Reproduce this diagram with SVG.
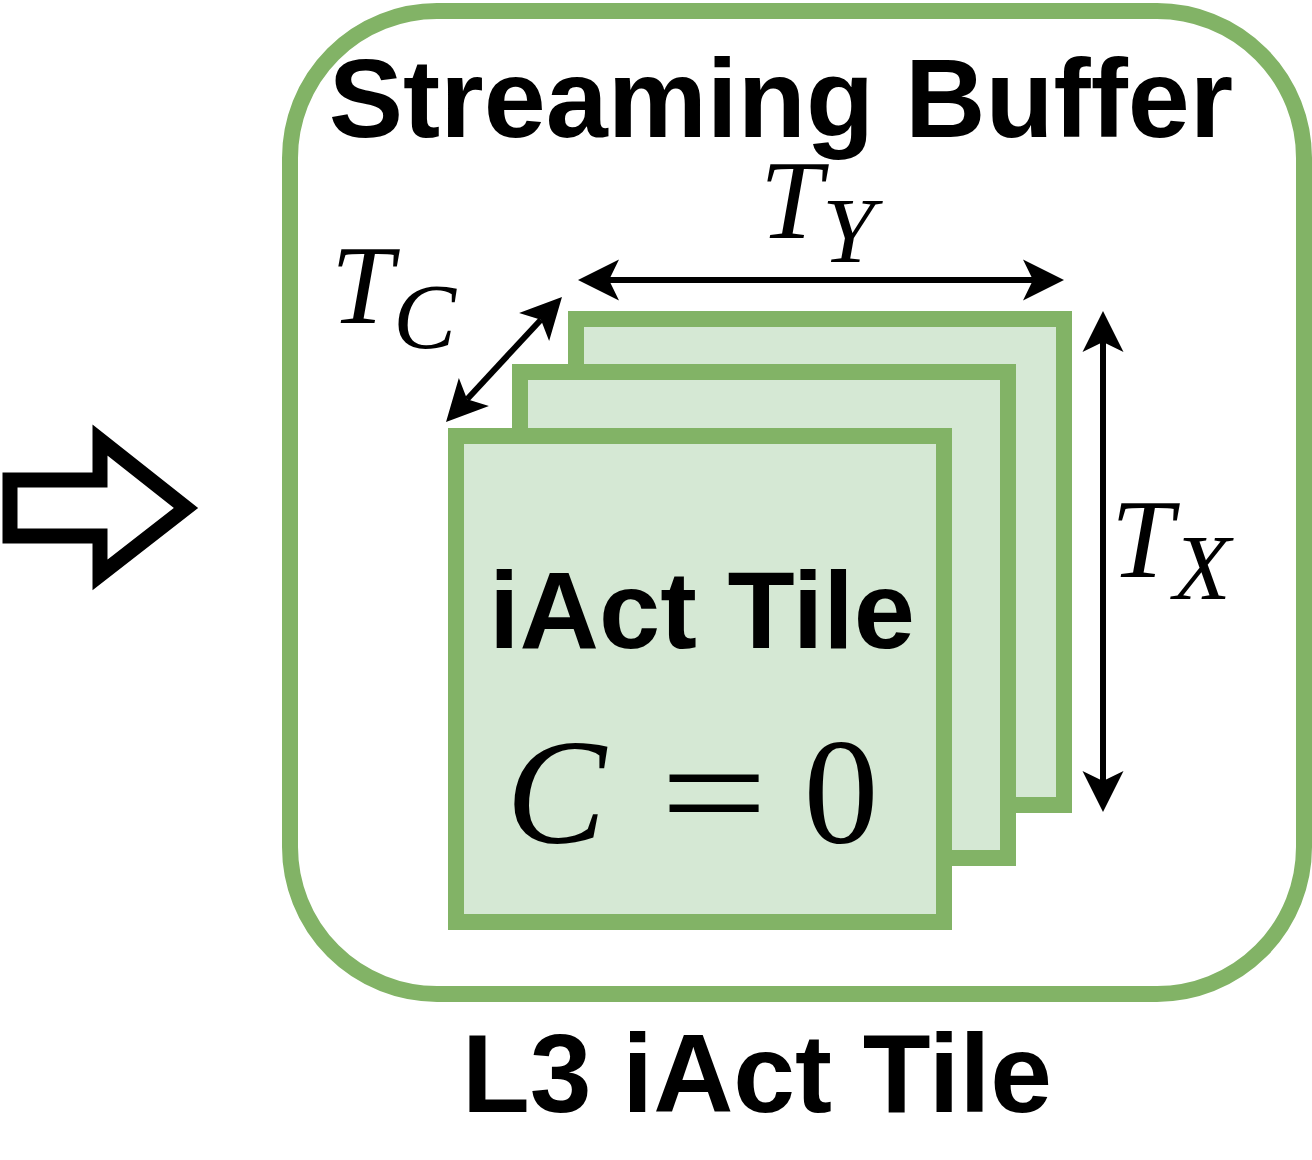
<svg xmlns="http://www.w3.org/2000/svg" width="1312" height="1160" viewBox="0 0 1312 1160">
  <style>
    .frame { fill: #ffffff; stroke: #82b366; stroke-width: 16; }
    .tile { fill: #d5e8d4; stroke: #82b366; stroke-width: 16; }
    .label { font-family: "Liberation Sans", Arial, sans-serif; font-weight: bold; fill: #000000; text-anchor: middle; }
    .math { font-family: "Liberation Serif", "Times New Roman", serif; font-style: italic; fill: #000000; }
    .mathup { font-family: "Liberation Serif", "Times New Roman", serif; fill: #000000; }
    .dim { fill: none; stroke: #000000; stroke-width: 6; marker-start: url(#head); marker-end: url(#head); }
  </style>
  <defs>
    <!-- classic concave arrowhead; reference point sits at the notch, tip 31px ahead -->
    <marker id="head" markerUnits="userSpaceOnUse" markerWidth="80" markerHeight="80" refX="0" refY="0" orient="auto-start-reverse" overflow="visible">
      <path d="M31,0 L-10,-20.5 L0,0 L-10,20.5 Z" fill="#000000"/>
    </marker>
  </defs>

  <!-- hollow block arrow on the left -->
  <g id="input-arrow">
    <polygon points="10,480 100,480 100,440 186,508 100,575 100,536 10,536" fill="#ffffff" stroke="#000000" stroke-width="15" stroke-linejoin="miter"/>
  </g>

  <!-- streaming buffer container -->
  <g id="streaming-buffer">
    <rect class="frame" x="290" y="11" width="1014" height="983" rx="147" ry="147"/>
    <text class="label" x="781" y="137" font-size="111.5">Streaming Buffer</text>
  </g>

  <!-- stacked channel tiles, back to front -->
  <g id="tile-back">
    <rect class="tile" x="576" y="319" width="488" height="486"/>
  </g>
  <g id="tile-middle">
    <rect class="tile" x="520" y="372" width="488" height="486"/>
  </g>
  <g id="tile-front">
    <rect class="tile" x="456" y="436" width="488" height="486"/>
    <text class="label" x="702" y="648" font-size="110">iAct Tile</text>
    <text class="math" x="506" y="843" font-size="150">C</text>
    <text class="mathup" x="660" y="843" font-size="150" textLength="108" lengthAdjust="spacingAndGlyphs">=</text>
    <text class="mathup" x="841" y="843" font-size="150" text-anchor="middle">0</text>
  </g>

  <!-- dimension labels -->
  <g id="label-ty">
    <text class="math" x="760" y="238" font-size="112">T<tspan dy="24" font-size="94">Y</tspan></text>
  </g>
  <g id="label-tc">
    <text class="math" x="331" y="323" font-size="112">T<tspan dy="25" font-size="94">C</tspan></text>
  </g>
  <g id="label-tx">
    <text class="math" x="1111" y="577" font-size="112">T<tspan dy="22" font-size="94">X</tspan></text>
  </g>

  <!-- caption -->
  <g id="caption">
    <text class="label" x="757" y="1112" font-size="111">L3 iAct Tile</text>
  </g>

  <!-- dimension connectors -->
  <g id="connectors">
    <line class="dim" x1="609" y1="280" x2="1033" y2="280"/>
    <line class="dim" x1="1103" y1="342" x2="1103" y2="781"/>
    <line class="dim" x1="467.1" y1="399.3" x2="540.9" y2="319.7"/>
  </g>
</svg>
